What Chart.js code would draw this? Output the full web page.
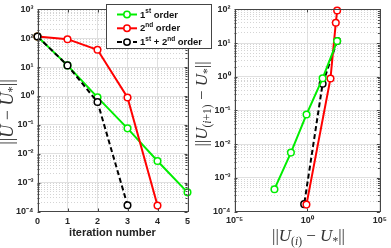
<!DOCTYPE html>
<html>
<head>
<meta charset="utf-8">
<script src="https://cdn.jsdelivr.net/npm/chart.js@4.4.1/dist/chart.umd.min.js"></script>
<style>
  html, body { margin: 0; padding: 0; background: #fff; }
  #wrap { position: relative; width: 391px; height: 248px; }
  canvas { position: absolute; left: 0; top: 0; }
</style>
</head>
<body>
<div id="wrap">
  <canvas id="rightChart" width="391" height="248"></canvas>
  <canvas id="leftChart" width="391" height="248"></canvas>
</div>
<script>
// valeurs
const iterations = [0, 1, 2, 3, 4, 5];
const firstOrder = [115, 11.5, 0.9, 0.076, 0.0056, 0.00046];
const secondOrder = [115, 93, 40, 0.89, 0.00016];
const combined = [115, 11.5, 0.62, 0.000165];

const seriesLabels = ["1st order", "2nd order", "1st + 2nd order"];
const seriesColors = ["#00ee00", "#ff0000", "#000000"];

const leftYDecades = [-4, -3, -2, -1, 0, 1, 2, 3];
const rightYDecades = [-4, -3, -2, -1, 0, 1, 2];
const rightXDecades = [-5, 0, 5];
const xTitleLeft = "iteration number";

// titres "mathématiques" : [texte, style] r = droit, i = italique, s = indice
const leftYTitle = [["||", "r"], ["U", "i"], [" − ", "r"], ["U", "i"], ["*", "s"], ["||", "r"]];
const rightYTitle = [["||", "r"], ["U", "i"], ["(", "s"], ["i", "si"], ["+1)", "s"], [" − ", "r"], ["U", "i"], ["*", "s"], ["||", "r"]];
const rightXTitle = [["||", "r"], ["U", "i"], ["(", "s"], ["i", "si"], [")", "s"], [" − ", "r"], ["U", "i"], ["*", "s"], ["||", "r"]];

const supers = { "-": "⁻", "0": "⁰", "1": "¹", "2": "²", "3": "³", "4": "⁴", "5": "⁵" };
const powLabel = (d) => "10" + String(d).split("").map((c) => supers[c]).join("");

const isDecade = (v) => Math.abs(Math.log10(v) - Math.round(Math.log10(v))) < 1e-9;

// ticks majeurs + mineurs pour un axe log
const logTicks = (decades, withMinor) => {
  let vals = [];
  decades.forEach((d, i) => {
    vals.push(Math.pow(10, d));
    if (withMinor && i < decades.length - 1) {
      for (let m = 2; m <= 9; m++) vals.push(m * Math.pow(10, d));
    }
  });
  return vals.map((v) => ({ value: v }));
};

const pairs = (arr) => arr.slice(0, -1).map((v, i) => ({ x: v, y: arr[i + 1] }));

const tickFont = { family: "'Liberation Sans', Arial, sans-serif", size: 9, weight: "bold" };
const tickColor = "#262626";
const majorGrid = "#e0e0e0";
const minorGrid = "#d4d4d4";
const boxColor = "#454545";

const logAxis = (decades, withMinor, min, max) => ({
  type: "logarithmic",
  min: min,
  max: max,
  afterBuildTicks: (scale) => {
    scale.ticks = logTicks(decades, withMinor);
  },
  ticks: {
    autoSkip: false,
    maxRotation: 0,
    font: tickFont,
    color: tickColor,
    padding: 4,
    callback: (v) => (isDecade(v) ? powLabel(Math.round(Math.log10(v))) : ""),
  },
  grid: {
    drawTicks: false,
    color: (c) => (c.tick && !isDecade(c.tick.value) ? minorGrid : majorGrid),
  },
  border: {
    display: false,
    dash: (c) => (c.tick && !isDecade(c.tick.value) ? [1, 2] : []),
  },
});

const drawMath = (ctx, parts, x, y, size, rotate) => {
  const fontFor = (k) => {
    const sub = k[0] === "s";
    const it = k === "i" || k === "si";
    return (it ? "italic " : "") + (sub ? size * 0.68 : size) + "px 'Liberation Serif', serif";
  };
  ctx.save();
  ctx.translate(x, y);
  if (rotate) ctx.rotate(-Math.PI / 2);
  let total = 0;
  parts.forEach((p) => {
    ctx.font = fontFor(p[1]);
    total += ctx.measureText(p[0]).width;
  });
  let cx = -total / 2;
  ctx.textBaseline = "middle";
  ctx.fillStyle = "#333";
  parts.forEach((p) => {
    ctx.font = fontFor(p[1]);
    const dy = p[1][0] === "s" ? size * 0.28 : 0;
    ctx.fillText(p[0], cx, dy);
    cx += ctx.measureText(p[0]).width;
  });
  ctx.restore();
};

// cadre + petites graduations intérieures façon matlab
const boxPlugin = {
  id: "boxPlugin",
  afterDraw(chart) {
    const { ctx, chartArea: a } = chart;
    ctx.save();
    ctx.strokeStyle = boxColor;
    ctx.lineWidth = 1;
    ctx.setLineDash([]);
    ctx.beginPath();
    const xs = chart.scales.x;
    xs.ticks.forEach((t) => {
      const px = Math.round(xs.getPixelForValue(t.value)) + 0.5;
      const len = xs.type === "logarithmic" && !isDecade(t.value) ? 2 : 3;
      ctx.moveTo(px, a.bottom);
      ctx.lineTo(px, a.bottom - len);
      ctx.moveTo(px, a.top);
      ctx.lineTo(px, a.top + len);
    });
    const ys = chart.scales.y;
    ys.ticks.forEach((t) => {
      const py = Math.round(ys.getPixelForValue(t.value)) + 0.5;
      const len = isDecade(t.value) ? 3 : 2;
      ctx.moveTo(a.left, py);
      ctx.lineTo(a.left + len, py);
      ctx.moveTo(a.right, py);
      ctx.lineTo(a.right - len, py);
    });
    ctx.stroke();
    ctx.strokeRect(Math.round(a.left) + 0.5, Math.round(a.top) + 0.5, Math.round(a.right - a.left), Math.round(a.bottom - a.top));
    ctx.restore();
  },
};

const mathTitles = {
  id: "mathTitles",
  afterDraw(chart, args, opts) {
    opts.items.forEach((it) => drawMath(chart.ctx, it.parts, it.x, it.y, it.size, it.rotate));
  },
};

const boxLegend = {
  id: "boxLegend",
  afterDraw(chart) {
    const ctx = chart.ctx;
    ctx.save();
    ctx.fillStyle = "#fff";
    ctx.fillRect(106.5, 4.5, 105, 44);
    ctx.strokeStyle = boxColor;
    ctx.lineWidth = 1;
    ctx.strokeRect(106.5, 4.5, 105, 44);
    chart.data.datasets.forEach((ds, i) => {
      const y = 14.5 + i * 13.8;
      ctx.strokeStyle = ds.borderColor;
      ctx.lineWidth = 2;
      ctx.setLineDash(ds.borderDash || []);
      ctx.beginPath();
      ctx.moveTo(117, y);
      ctx.lineTo(137, y);
      ctx.stroke();
      ctx.setLineDash([]);
      ctx.lineWidth = 1.5;
      ctx.fillStyle = "#fff";
      ctx.beginPath();
      ctx.arc(127, y, 3.2, 0, Math.PI * 2);
      ctx.fill();
      ctx.stroke();
      // texte avec exposants st / nd
      let x = 140;
      ctx.fillStyle = "#111";
      ctx.textBaseline = "middle";
      ds.label.split(/(st|nd)/).forEach((part, j) => {
        if (j % 2 === 1) {
          ctx.font = "bold 6.5px 'Liberation Sans', Arial, sans-serif";
          ctx.fillText(part, x, y - 3);
        } else {
          ctx.font = "bold 9.5px 'Liberation Sans', Arial, sans-serif";
          ctx.fillText(part, x, y + 0.5);
        }
        x += ctx.measureText(part).width;
      });
    });
    ctx.restore();
  },
};

const lineSet = (label, data, color, dash, order) => ({
  label: label,
  data: data,
  borderColor: color,
  backgroundColor: "#fff",
  borderWidth: 2,
  borderDash: dash,
  pointRadius: 3.3,
  pointBorderWidth: 1.5,
  pointBackgroundColor: "#fff",
  pointBorderColor: color,
  tension: 0,
  clip: false,
  order: order,
});

const leftChart = new Chart(document.getElementById("leftChart"), {
  type: "line",
  data: {
    labels: iterations,
    datasets: [
      lineSet(seriesLabels[0], firstOrder.map((v, i) => ({ x: iterations[i], y: v })), seriesColors[0], [], 3),
      lineSet(seriesLabels[1], secondOrder.map((v, i) => ({ x: iterations[i], y: v })), seriesColors[1], [], 2),
      lineSet(seriesLabels[2], combined.map((v, i) => ({ x: iterations[i], y: v })), seriesColors[2], [5, 3], 1),
    ],
  },
  options: {
    responsive: false,
    animation: false,
    layout: { padding: { left: 0, top: 5.5, right: 203.5, bottom: 0 } },
    plugins: {
      legend: { display: false },
      tooltip: { enabled: false },
      mathTitles: { items: [{ parts: leftYTitle, x: 8, y: 112, size: 18, rotate: true }] },
    },
    scales: {
      x: {
        type: "linear",
        min: 0,
        max: 5,
        afterFit: (s) => { s.height = 36.5; },
        ticks: { stepSize: 1, font: tickFont, color: tickColor, padding: 5, maxRotation: 0 },
        grid: { drawTicks: false, color: majorGrid },
        border: { display: false },
        title: {
          display: true,
          text: xTitleLeft,
          font: { family: "'Liberation Sans', Arial, sans-serif", size: 11, weight: "bold" },
          color: "#222",
          padding: { top: 0, bottom: 8 },
        },
      },
      y: Object.assign(logAxis(leftYDecades, true, 1e-4, 1e3), {
        afterFit: (s) => { s.width = 37.5; },
      }),
    },
  },
  plugins: [boxPlugin, mathTitles, boxLegend],
});

const rightChart = new Chart(document.getElementById("rightChart"), {
  type: "line",
  data: {
    datasets: [
      lineSet(seriesLabels[0], pairs(firstOrder), seriesColors[0], [], 1),
      lineSet(seriesLabels[1], pairs(secondOrder), seriesColors[1], [], 2),
      lineSet(seriesLabels[2], pairs(combined), seriesColors[2], [5, 3], 3),
    ],
  },
  options: {
    responsive: false,
    animation: false,
    layout: { padding: { left: 190, top: 5.5, right: 8.5, bottom: 0 } },
    plugins: {
      legend: { display: false },
      tooltip: { enabled: false },
      mathTitles: {
        items: [
          { parts: rightYTitle, x: 203, y: 104, size: 17, rotate: true },
          { parts: rightXTitle, x: 308.5, y: 237, size: 17, rotate: false },
        ],
      },
    },
    scales: {
      x: Object.assign(logAxis(rightXDecades, false, 1e-5, 1e5), {
        afterFit: (s) => { s.height = 36.5; },
      }),
      y: Object.assign(logAxis(rightYDecades, true, 1e-4, 1e2), {
        afterFit: (s) => { s.width = 44.5; },
      }),
    },
  },
  plugins: [boxPlugin, mathTitles],
});
</script>
</body>
</html>
